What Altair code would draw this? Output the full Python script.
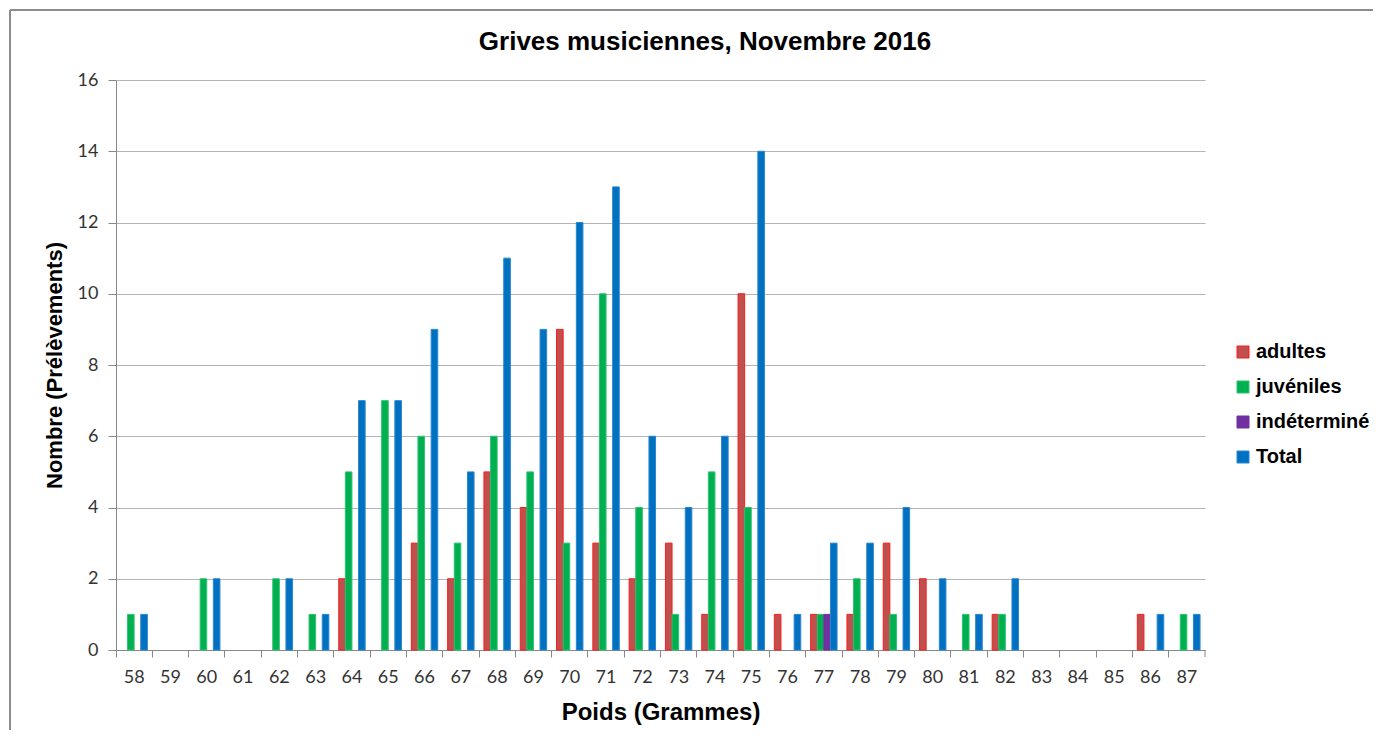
import altair as alt
import pandas as pd

poids = [58, 59, 60, 61, 62, 63, 64, 65, 66, 67, 68, 69, 70, 71, 72,
         73, 74, 75, 76, 77, 78, 79, 80, 81, 82, 83, 84, 85, 86, 87]
adultes = [0, 0, 0, 0, 0, 0, 2, 0, 3, 2, 5, 4, 9, 3, 2,
           3, 1, 10, 1, 1, 1, 3, 2, 0, 1, 0, 0, 0, 1, 0]
juveniles = [1, 0, 2, 0, 2, 1, 5, 7, 6, 3, 6, 5, 3, 10, 4,
             1, 5, 4, 0, 1, 2, 1, 0, 1, 1, 0, 0, 0, 0, 1]
indetermine = [0, 0, 0, 0, 0, 0, 0, 0, 0, 0, 0, 0, 0, 0, 0,
               0, 0, 0, 0, 1, 0, 0, 0, 0, 0, 0, 0, 0, 0, 0]
total = [1, 0, 2, 0, 2, 1, 7, 7, 9, 5, 11, 9, 12, 13, 6,
         4, 6, 14, 1, 3, 3, 4, 2, 1, 2, 0, 0, 0, 1, 1]

series = ["adultes", "juvéniles", "indéterminé", "Total"]
fills = ["#C0504D", "#00B050", "#7030A0", "#0070C0"]
strokes = ["#FF1A1A", "#2BC472", "#7030A0", "#2A86D0"]
title_text = "Grives musiciennes, Novembre 2016"

rows = []
for name, vals in zip(series, [adultes, juveniles, indetermine, total]):
    for p, v in zip(poids, vals):
        if v > 0:
            rows.append({"poids": str(p), "serie": name, "n": v})
df = pd.DataFrame(rows)

W, H = 1089, 570

legend = alt.Legend(
    title=None, orient="none", legendX=1117, legendY=262,
    symbolType="square", symbolSize=144, symbolStrokeWidth=1,
    labelFont="Liberation Sans", labelFontSize=20, labelFontWeight="bold",
    labelColor="#000000", labelOffset=3, rowPadding=15, padding=0,
)

bars = alt.Chart(df).mark_bar(strokeWidth=1).encode(
    x=alt.X(
        "poids:N",
        sort=[str(p) for p in poids],
        scale=alt.Scale(domain=[str(p) for p in poids], paddingInner=0, paddingOuter=0),
        axis=alt.Axis(
            title="Poids (Grammes)", labelAngle=0, bandPosition=0,
            tickSize=7, tickColor="#888888",
            domainColor="#888888", labelFont="Lato", labelFontSize=18,
            labelColor="#333333", labelPadding=11, titleFont="Liberation Sans",
            titleFontSize=24, titleFontWeight="bold", titleColor="#000000",
            titlePadding=14, grid=False,
        ),
    ),
    xOffset=alt.XOffset(
        "serie:N",
        scale=alt.Scale(domain=series, paddingInner=0, paddingOuter=0.75),
    ),
    y=alt.Y(
        "n:Q",
        scale=alt.Scale(domain=[0, 16]),
        axis=alt.Axis(
            title="Nombre (Prélèvements)", values=[0, 2, 4, 6, 8, 10, 12, 14, 16],
            tickSize=8, tickColor="#888888", domainColor="#888888",
            gridColor="#B4B4B4", gridWidth=1, labelFont="Lato",
            labelFontSize=18, labelColor="#333333", labelPadding=10,
            titleFont="Liberation Sans", titleFontSize=22,
            titleFontWeight="bold", titleColor="#000000", titlePadding=11,
        ),
    ),
    color=alt.Color("serie:N", scale=alt.Scale(domain=series, range=fills), legend=legend),
    stroke=alt.Stroke("serie:N", scale=alt.Scale(domain=series, range=strokes), legend=legend),
)

one = pd.DataFrame({"a": [0]})
end_tick = alt.Chart(one).mark_rule(color="#888888", strokeWidth=1).encode(
    x=alt.value(W), y=alt.value(H), y2=alt.value(H + 7)
)
border_top = alt.Chart(one).mark_rule(color="#8C8C8C", strokeWidth=2).encode(
    x=alt.value(-106), x2=alt.value(1300), y=alt.value(-70)
)
border_left = alt.Chart(one).mark_rule(color="#8C8C8C", strokeWidth=2).encode(
    x=alt.value(-106), y=alt.value(-70), y2=alt.value(700)
)
title = alt.Chart(one).mark_text(
    font="Liberation Sans", fontSize=26, fontWeight="bold", color="#000000",
    align="center", baseline="alphabetic",
).encode(x=alt.value(589), y=alt.value(-30), text=alt.value(title_text))

chart = alt.layer(border_top, border_left, title, bars, end_tick).properties(
    width=W, height=H,
    autosize=alt.AutoSizeParams(type="none"),
    padding={"left": 108, "top": 72, "right": 168, "bottom": 80},
).configure_view(stroke=None)

chart.save("out.html", embed_options={"renderer": "svg", "actions": False})
